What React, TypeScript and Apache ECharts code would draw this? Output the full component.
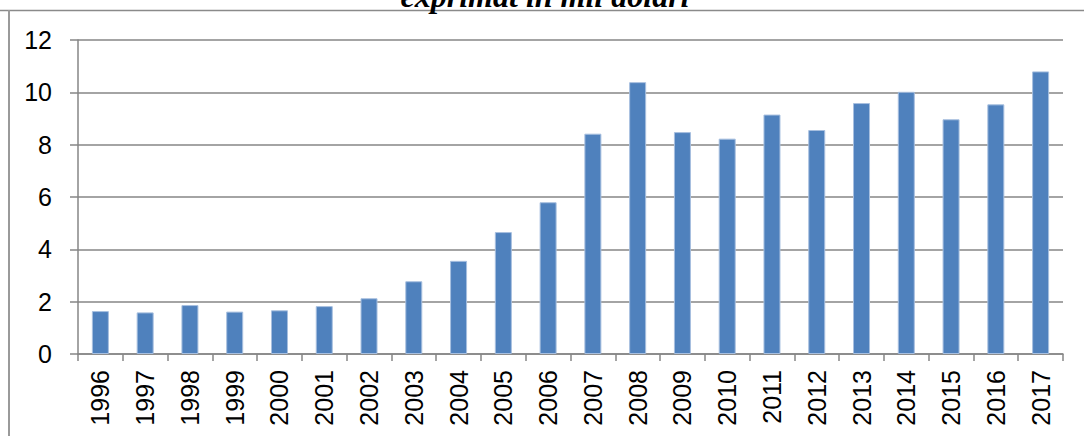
import React, { useEffect, useRef } from "react";
import * as echarts from "echarts";

// Annual values, thousand dollars
const years = [
  "1996", "1997", "1998", "1999", "2000", "2001", "2002", "2003", "2004", "2005", "2006",
  "2007", "2008", "2009", "2010", "2011", "2012", "2013", "2014", "2015", "2016", "2017",
];
const values = [
  1.64, 1.59, 1.87, 1.62, 1.67, 1.83, 2.13, 2.78, 3.56, 4.66, 5.8,
  8.42, 10.39, 8.48, 8.23, 9.15, 8.56, 9.59, 10.02, 8.97, 9.54, 10.8,
];
const titleText = "exprimat în mii dolari";

const GRID_GRAY = "#868686";
const LABEL_FONT = "'Liberation Sans', Arial, sans-serif";

export default function App() {
  const ref = useRef<HTMLDivElement>(null);

  useEffect(() => {
    document.body.style.margin = "0";
    if (!ref.current) return;
    const chart = echarts.init(ref.current, undefined, { renderer: "svg" });
    chart.setOption({
      animation: false,
      backgroundColor: "#ffffff",
      grid: { left: 78, right: 21, top: 40, bottom: 82 },
      xAxis: {
        type: "category",
        data: years,
        boundaryGap: true,
        axisLine: { show: true, lineStyle: { color: GRID_GRAY, width: 1.5 } },
        axisTick: { show: true, length: 7, lineStyle: { color: GRID_GRAY, width: 1.5 } },
        axisLabel: {
          rotate: 90,
          margin: 16,
          color: "#000000",
          fontSize: 25,
          fontFamily: LABEL_FONT,
          interval: 0,
        },
        splitLine: { show: false },
      },
      yAxis: {
        type: "value",
        min: 0,
        max: 12,
        interval: 2,
        axisLine: { show: true, lineStyle: { color: GRID_GRAY, width: 1.5 } },
        axisTick: { show: true, inside: false, length: 8, lineStyle: { color: GRID_GRAY, width: 1.5 } },
        axisLabel: {
          margin: 26,
          color: "#000000",
          fontSize: 25,
          fontFamily: LABEL_FONT,
        },
        splitLine: { show: true, lineStyle: { color: GRID_GRAY, width: 1.5 } },
      },
      series: [
        {
          type: "bar",
          data: values,
          barWidth: 17,
          itemStyle: {
            color: "#4f81bd",
            borderColor: "#a7bfdf",
            borderWidth: 1,
          },
        },
      ],
      graphic: [
        {
          type: "line",
          shape: { x1: 0, y1: 10.5, x2: 1084, y2: 10.5 },
          style: { stroke: "#8a8a8a", lineWidth: 1.5 },
          silent: true,
        },
        {
          type: "line",
          shape: { x1: 9, y1: 10, x2: 9, y2: 436 },
          style: { stroke: "#9a9a9a", lineWidth: 2 },
          silent: true,
        },
        {
          type: "text",
          x: 545,
          y: 12,
          style: {
            text: titleText,
            fill: "#000000",
            font: "italic bold 32px 'Liberation Serif', 'Times New Roman', serif",
            textAlign: "center",
            textVerticalAlign: "bottom",
          },
          silent: true,
        },
      ],
    });
    return () => chart.dispose();
  }, []);

  return <div ref={ref} style={{ width: 1084, height: 436 }} />;
}
